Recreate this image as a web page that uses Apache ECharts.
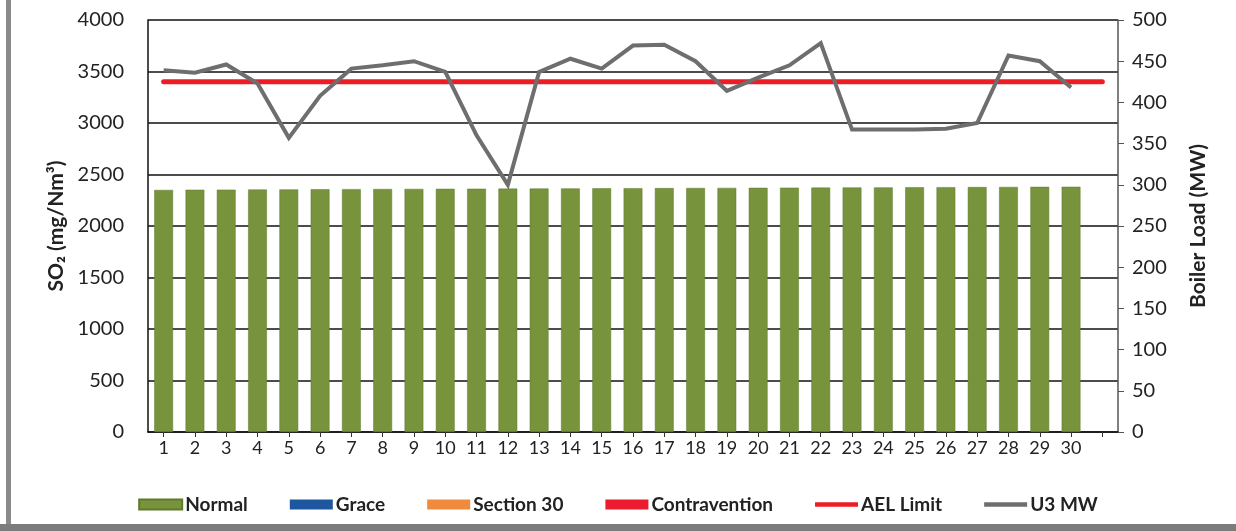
<!DOCTYPE html>
<html>
<head>
<meta charset="utf-8">
<script src="https://cdn.jsdelivr.net/npm/echarts@6/dist/echarts.min.js"></script>
<style>
  html, body { margin: 0; padding: 0; background: #fff; }
  #wrap { position: relative; width: 1236px; height: 531px; overflow: hidden; background: #fff; }
  #chart { position: absolute; left: 0; top: 0; width: 1236px; height: 531px; }
  #edgeL { position: absolute; left: 6px; top: 0; width: 5px; height: 531px; background: #8a8a8a; }
  #edgeB { position: absolute; left: 0; top: 524px; width: 1236px; height: 7px; background: #7c7c7c; }
</style>
</head>
<body>
<div id="wrap">
  <div id="chart"></div>
  <div id="edgeL"></div>
  <div id="edgeB"></div>
</div>
<script>
// ---- data ----
const days = ['1','2','3','4','5','6','7','8','9','10','11','12','13','14','15','16','17','18','19','20','21','22','23','24','25','26','27','28','29','30',''];
const normalSO2 = [2350,2352,2353,2354,2355,2357,2358,2359,2360,2361,2362,2363,2364,2365,2366,2367,2368,2369,2370,2371,2372,2373,2374,2375,2376,2377,2378,2379,2380,2381];
const graceSO2 = [];
const section30SO2 = [];
const contraventionSO2 = [];
const aelLimit = [3400,3400,3400,3400,3400,3400,3400,3400,3400,3400,3400,3400,3400,3400,3400,3400,3400,3400,3400,3400,3400,3400,3400,3400,3400,3400,3400,3400,3400,3400,3400];
const u3MW = [439,436,446,423,357,408,441,445,450,437,360,300,437,453,441,469,470,450,414,430,445,472,367,367,367,368,375,457,450,418];
const leftTicks = { min: 0, max: 4000, interval: 500 };
const rightTicks = { min: 0, max: 500, interval: 50 };

const FONT = 'Lato, "Open Sans", sans-serif';
const chart = echarts.init(document.getElementById('chart'), null, { renderer: 'canvas' });

chart.setOption({
  animation: false,
  textStyle: { fontFamily: FONT },
  grid: { left: 148, right: 118, top: 20, bottom: 99, containLabel: false },
  legend: {
    bottom: 12,
    left: 'center',
    itemWidth: 43,
    itemHeight: 10,
    itemGap: 42,
    textStyle: { fontFamily: FONT, fontSize: 19, fontWeight: 'bold', color: '#222', padding: [0, 0, 0, -2] },
    data: [
      { name: 'Normal', icon: 'rect' },
      { name: 'Grace', icon: 'rect' },
      { name: 'Section 30', icon: 'rect' },
      { name: 'Contravention', icon: 'rect' },
      { name: 'AEL Limit', icon: 'path://M0,0h40v4h-40z' },
      { name: 'U3 MW', icon: 'path://M0,0h40v4h-40z' }
    ]
  },
  xAxis: {
    type: 'category',
    data: days,
    boundaryGap: true,
    axisLine: { show: true, lineStyle: { color: '#111', width: 1.5 } },
    axisTick: { show: true, alignWithLabel: true, length: 5, lineStyle: { color: '#333' } },
    axisLabel: { fontFamily: FONT, fontSize: 18, color: '#222', margin: 7, interval: 0 }
  },
  yAxis: [
    {
      type: 'value',
      min: leftTicks.min, max: leftTicks.max, interval: leftTicks.interval,
      name: 'SO\u2082 (mg/Nm\u00B3)',
      nameLocation: 'middle',
      nameGap: 80,
      nameTextStyle: { fontFamily: FONT, fontSize: 21, fontWeight: 'bold', color: '#222' },
      axisLine: { show: true, lineStyle: { color: '#111', width: 1.5 } },
      axisTick: { show: false },
      axisLabel: { fontFamily: FONT, fontSize: 20, color: '#222', margin: 24, formatter: v => String(v) },
      splitLine: { show: true, lineStyle: { color: '#111', width: 1.6 } }
    },
    {
      type: 'value',
      min: rightTicks.min, max: rightTicks.max, interval: rightTicks.interval,
      name: 'Boiler Load (MW)',
      nameLocation: 'middle',
      nameGap: 70,
      nameTextStyle: { fontFamily: FONT, fontSize: 21, fontWeight: 'bold', color: '#222' },
      axisLine: { show: true, lineStyle: { color: '#555', width: 1.5 } },
      axisTick: { show: true, length: 6, lineStyle: { color: '#555' } },
      axisLabel: { fontFamily: FONT, fontSize: 20, color: '#222', margin: 14, formatter: v => String(v) },
      splitLine: { show: false }
    }
  ],
  series: [
    { name: 'Normal', type: 'bar', stack: 'so2', yAxisIndex: 0, barWidth: '60%', data: normalSO2,
      itemStyle: { color: '#77933c', borderColor: '#5f7a2e', borderWidth: 0.5 } },
    { name: 'Grace', type: 'bar', stack: 'so2', yAxisIndex: 0, barWidth: '60%', data: graceSO2,
      itemStyle: { color: '#1f56a0' } },
    { name: 'Section 30', type: 'bar', stack: 'so2', yAxisIndex: 0, barWidth: '60%', data: section30SO2,
      itemStyle: { color: '#f08a3c' } },
    { name: 'Contravention', type: 'bar', stack: 'so2', yAxisIndex: 0, barWidth: '60%', data: contraventionSO2,
      itemStyle: { color: '#ec1c2e' } },
    { name: 'AEL Limit', type: 'line', yAxisIndex: 0, data: aelLimit, showSymbol: false, symbol: 'none',
      lineStyle: { color: '#ee1c25', width: 5, cap: 'round' }, itemStyle: { color: '#ee1c25' }, z: 3 },
    { name: 'U3 MW', type: 'line', yAxisIndex: 1, data: u3MW, showSymbol: false, symbol: 'none',
      lineStyle: { color: '#6e6e6e', width: 4, join: 'miter' }, itemStyle: { color: '#6e6e6e' }, z: 4 }
  ]
});
</script>
</body>
</html>
